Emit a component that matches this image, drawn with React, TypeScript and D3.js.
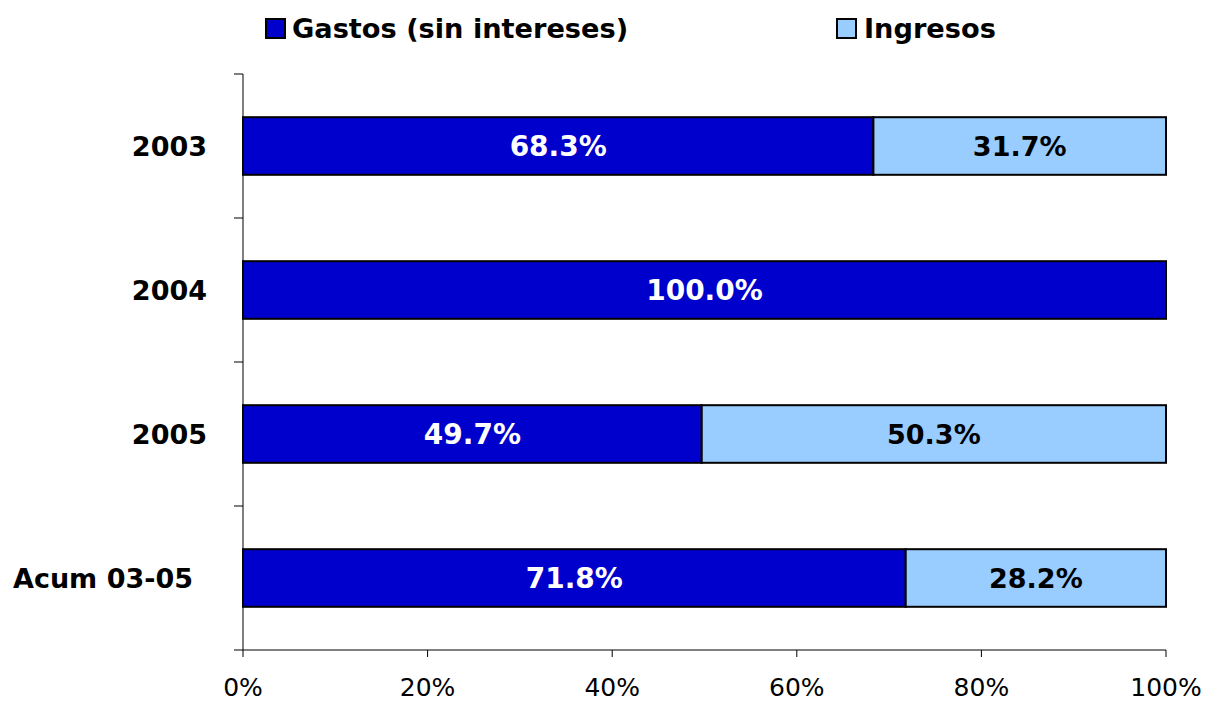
import React from 'react';
import { scaleBand, scaleLinear } from 'd3';

const categories = ['2003', '2004', '2005', 'Acum 03-05'];
const gastos = [68.3, 100.0, 49.7, 71.8];
const ingresos = [31.7, 0, 50.3, 28.2];
const xTicks = [0, 20, 40, 60, 80, 100];
const seriesNames = ['Gastos (sin intereses)', 'Ingresos'];
const colors = ['#0000CC', '#99CCFF'];

const width = 1205;
const height = 702;
const margin = { top: 74, right: 39, bottom: 52, left: 243 };
const font = '"DejaVu Sans", Verdana, sans-serif';

const App = () => {
  const innerW = width - margin.left - margin.right;
  const innerH = height - margin.top - margin.bottom;

  const x = scaleLinear().domain([0, 100]).range([0, innerW]);
  const y = scaleBand().domain(categories).range([0, innerH]).paddingInner(0.6).paddingOuter(0.3);
  const step = y.step();

  return (
    <svg width={width} height={height} style={{ position: 'absolute', left: 0, top: 0 }} fontFamily={font}>
      <rect width={width} height={height} fill="#fff" />
      {/* legend */}
      <g>
        <rect x={266} y={19} width={19} height={19} fill={colors[0]} stroke="#000" strokeWidth={2} />
        <text x={292} y={38} fontSize={27.2} fontWeight="bold">{seriesNames[0]}</text>
        <rect x={837} y={19} width={19} height={19} fill={colors[1]} stroke="#000" strokeWidth={2} />
        <text x={864} y={38} fontSize={27.2} fontWeight="bold">{seriesNames[1]}</text>
      </g>
      <g transform={`translate(${margin.left},${margin.top})`}>
        {categories.map((c, i) => {
          const by = y(c) ?? 0;
          const bh = y.bandwidth();
          const g0 = gastos[i];
          const g1 = ingresos[i];
          return (
            <g key={c}>
              <rect x={x(0)} y={by} width={x(g0) - x(0)} height={bh} fill={colors[0]} stroke="#000" strokeWidth={2} />
              {g1 > 0 && (
                <rect x={x(g0)} y={by} width={x(g0 + g1) - x(g0)} height={bh} fill={colors[1]} stroke="#000" strokeWidth={2} />
              )}
              <text x={x(g0 / 2)} y={by + bh / 2} dy="0.36em" textAnchor="middle" fill="#fff" fontSize={28} fontWeight="bold">
                {g0.toFixed(1)}%
              </text>
              {g1 > 0 && (
                <text x={x(g0 + g1 / 2)} y={by + bh / 2} dy="0.36em" textAnchor="middle" fill="#000" fontSize={27} fontWeight="bold">
                  {g1.toFixed(1)}%
                </text>
              )}
              <text
                x={c.startsWith('Acum') ? -50 : -36}
                y={by + bh / 2}
                dy="0.36em"
                textAnchor="end"
                fontSize={27}
                fontWeight="bold"
              >
                {c}
              </text>
            </g>
          );
        })}
        {/* y axis */}
        <line x1={0} x2={0} y1={0} y2={innerH} stroke="#000" strokeWidth={1} />
        {categories.concat(['end']).map((c, i) => (
          <line key={c} x1={-9} x2={0} y1={i * step} y2={i * step} stroke="#000" />
        ))}
        {/* x axis */}
        <line x1={0} x2={innerW} y1={innerH} y2={innerH} stroke="#000" />
        {xTicks.map((t) => (
          <g key={t} transform={`translate(${x(t)},${innerH})`}>
            <line y1={0} y2={7} stroke="#000" />
            <text y={46} textAnchor="middle" fontSize={25}>{t}%</text>
          </g>
        ))}
      </g>
    </svg>
  );
};

export default App;
